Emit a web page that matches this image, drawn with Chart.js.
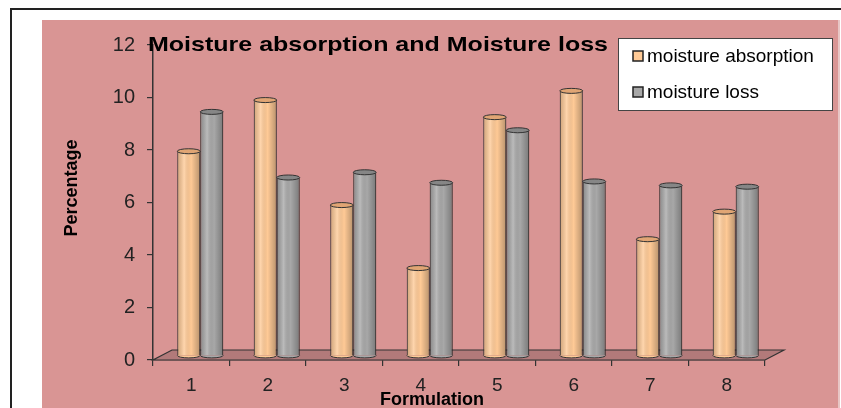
<!DOCTYPE html>
<html>
<head>
<meta charset="utf-8">
<script src="https://cdn.jsdelivr.net/npm/chart.js@4"></script>
<style>
 body { margin: 0; background: #fff; width: 841px; height: 408px; overflow: hidden; position: relative; font-family: Arial, "Liberation Sans", sans-serif; }
 #frame { position: absolute; left: 10px; top: 8px; width: 840px; height: 410px; border-left: 2px solid #222; border-top: 2px solid #222; }
 #plot { position: absolute; left: 42px; top: 20px; width: 796px; height: 400px; background: #d99594; border-right: 2px solid #e8c6c5; }
 #chart { position: absolute; left: 0; top: 0; }
</style>
</head>
<body>
<div id="frame"></div>
<div id="plot"></div>
<canvas id="chart" width="841" height="408"></canvas>
<script>
const formulations = ["1", "2", "3", "4", "5", "6", "7", "8"];
const moistureAbsorption = [7.8, 9.75, 5.75, 3.35, 9.1, 10.1, 4.45, 5.5];
const moistureLoss = [9.3, 6.8, 7.0, 6.6, 8.6, 6.65, 6.5, 6.45];
const seriesNames = ["moisture absorption", "moisture loss"];
const chartTitle = "Moisture absorption and Moisture loss";
const xTitle = "Formulation";
const yTitle = "Percentage";

const FONT = "Arial, 'Liberation Sans', sans-serif";
const depthX = 19, depthY = 10;   // 3d floor depth
const barShiftX = 9, barShiftY = 4;

// floor, cylinders, title, legend
const decor = {
 id: "decor",
 beforeDatasetsDraw(chart) {
  const { ctx, scales } = chart;
  const x = scales.x, y0 = scales.y.getPixelForValue(0);
  ctx.save();
  ctx.beginPath();
  ctx.moveTo(x.left, y0);
  ctx.lineTo(x.right, y0);
  ctx.lineTo(x.right + depthX, y0 - depthY);
  ctx.lineTo(x.left + depthX, y0 - depthY);
  ctx.closePath();
  ctx.fillStyle = "#b27a7a";
  ctx.fill();
  ctx.strokeStyle = "#333";
  ctx.lineWidth = 1.2;
  ctx.stroke();
  ctx.restore();
  ctx.save();
  ctx.translate(barShiftX, -barShiftY);
 },
 afterDatasetsDraw(chart) {
  const { ctx } = chart;
  chart.data.datasets.forEach((ds, di) => {
   const meta = chart.getDatasetMeta(di);
   meta.data.forEach((bar) => {
    const w = bar.width, l = bar.x - w / 2, top = bar.y, base = bar.base;
    const g = ctx.createLinearGradient(l, 0, l + w, 0);
    g.addColorStop(0, "rgba(0,0,0,0.18)");
    g.addColorStop(0.3, "rgba(255,255,255,0.22)");
    g.addColorStop(0.6, "rgba(0,0,0,0)");
    g.addColorStop(1, "rgba(0,0,0,0.28)");
    ctx.fillStyle = g;
    ctx.fillRect(l, top, w, base - top);
    // bottom rim
    ctx.beginPath();
    ctx.ellipse(bar.x, base, w / 2, 2.5, 0, 0, Math.PI);
    ctx.fillStyle = ds.backgroundColor;
    ctx.fill();
    ctx.strokeStyle = "#333";
    ctx.lineWidth = 1;
    ctx.stroke();
    // top cap
    ctx.beginPath();
    ctx.ellipse(bar.x, top, w / 2, 2.5, 0, 0, Math.PI * 2);
    ctx.fillStyle = ds.capColor;
    ctx.fill();
    ctx.stroke();
   });
  });
  ctx.restore();
 },
 afterDraw(chart) {
  const { ctx } = chart;
  ctx.save();
  // title
  ctx.font = "bold 21px " + FONT;
  ctx.fillStyle = "#000";
  ctx.textBaseline = "alphabetic";
  const tw = ctx.measureText(chartTitle).width;
  ctx.save();
  ctx.translate(148, 51);
  ctx.scale(460 / tw, 1);
  ctx.fillText(chartTitle, 0, 0);
  ctx.restore();
  // axis titles
  ctx.font = "bold 18px " + FONT;
  ctx.textAlign = "center";
  ctx.textBaseline = "top";
  ctx.fillText(xTitle, 432, 391);
  ctx.save();
  ctx.translate(72, 188);
  ctx.rotate(-Math.PI / 2);
  ctx.textBaseline = "middle";
  ctx.font = "bold 18px " + FONT;
  ctx.fillText(yTitle, 0, 0);
  ctx.restore();
  // legend
  ctx.fillStyle = "#fff";
  ctx.fillRect(618, 38, 214, 72);
  ctx.strokeStyle = "#444";
  ctx.lineWidth = 1;
  ctx.strokeRect(618.5, 38.5, 214, 72);
  ctx.font = "19px " + FONT;
  ctx.textAlign = "left";
  ctx.textBaseline = "middle";
  chart.data.datasets.forEach((ds, i) => {
   const cy = 56 + i * 36;
   ctx.fillStyle = ds.backgroundColor;
   ctx.fillRect(633, cy - 5, 10, 10);
   ctx.strokeStyle = "#222";
   ctx.lineWidth = 1.5;
   ctx.strokeRect(633, cy - 5, 10, 10);
   ctx.fillStyle = "#000";
   ctx.fillText(ds.label, 647, cy + 1);
  });
  ctx.restore();
 },
};

new Chart(document.getElementById("chart"), {
 type: "bar",
 data: {
  labels: formulations,
  datasets: [
   {
    label: seriesNames[0],
    data: moistureAbsorption,
    backgroundColor: "#ffca96",
    capColor: "#e0a574",
    borderColor: "#3a3a3a",
    borderWidth: 1,
   },
   {
    label: seriesNames[1],
    data: moistureLoss,
    backgroundColor: "#a8a8a8",
    capColor: "#868686",
    borderColor: "#333",
    borderWidth: 1,
   },
  ],
 },
 plugins: [decor],
 options: {
  responsive: false,
  devicePixelRatio: 1,
  animation: false,
  clip: false,
  categoryPercentage: 0.6,
  barPercentage: 1,
  layout: { padding: { left: 0, right: 76, top: 45, bottom: 0 } },
  plugins: {
   legend: { display: false },
   title: { display: false },
   tooltip: { enabled: false },
  },
  scales: {
   x: {
    afterFit: (s) => { s.height = 48; },
    grid: { display: true, offset: true, drawOnChartArea: false, tickLength: 6, color: "#333", lineWidth: 1.2 },
    border: { display: true, color: "#333", width: 1.2 },
    ticks: { color: "#222", font: { size: 19, family: FONT }, padding: 8 },
   },
   y: {
    min: 0,
    max: 12,
    afterFit: (s) => { s.width = 153; },
    grid: { display: true, drawOnChartArea: false, tickLength: 6, color: "#333", lineWidth: 1.2 },
    border: { display: true, color: "#333", width: 1.5 },
    ticks: { stepSize: 2, color: "#222", font: { size: 20, family: FONT }, padding: 12 },
   },
  },
 },
});
</script>
</body>
</html>
